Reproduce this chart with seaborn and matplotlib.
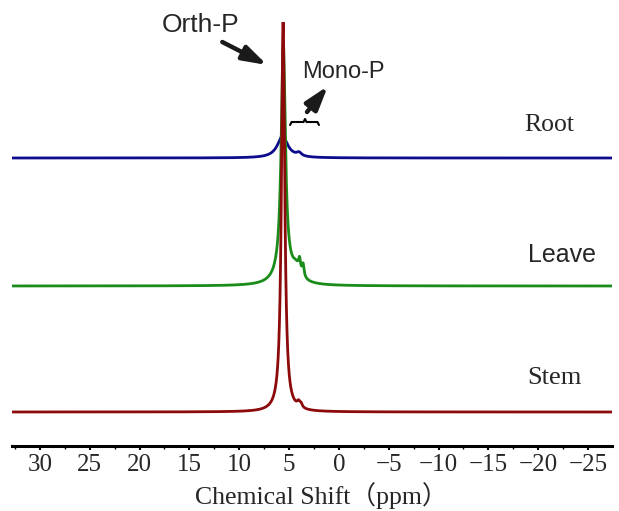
import numpy as np
import pandas as pd
import matplotlib
matplotlib.use("Agg")
import matplotlib.pyplot as plt
import seaborn as sns

# 31P NMR peak tables per tissue: centre (ppm), height (a.u.), half-width (ppm)
stem_centres = [5.60, 4.05, 3.80]
stem_heights = [390.0, 5.0, 3.5]
stem_widths = [0.20, 0.18, 0.15]

leave_centres = [5.58, 5.50, 4.30, 3.95, 3.60]
leave_heights = [232.0, 10.0, 12.0, 12.0, 12.0]
leave_widths = [0.25, 1.00, 0.50, 0.12, 0.12]

root_centres = [5.65, 5.65, 4.00]
root_heights = [21.0, 4.0, 3.5]
root_widths = [0.65, 0.08, 0.30]

# vertical stacking offsets of the three traces
samples = ["Stem", "Leave", "Root"]
offsets = [34.0, 160.0, 288.0]
colors = ["#8c0a0a", "#1a8c1a", "#0c0c8c"]

ticks = [30, 25, 20, 15, 10, 5, 0, -5, -10, -15, -20, -25]

shift = np.linspace(32.8, -27.4, 4000)


def lorentz_sum(x, centres, heights, widths):
    y = np.zeros_like(x)
    for c, h, w in zip(centres, heights, widths):
        y += h / (1.0 + ((x - c) / w) ** 2)
    return y


tables = {
    "Stem": (stem_centres, stem_heights, stem_widths),
    "Leave": (leave_centres, leave_heights, leave_widths),
    "Root": (root_centres, root_heights, root_widths),
}

frames = []
for name, off in zip(samples, offsets):
    c, h, w = tables[name]
    frames.append(pd.DataFrame({"shift": shift,
                                "intensity": off + lorentz_sum(shift, c, h, w),
                                "sample": name}))
df = pd.concat(frames, ignore_index=True)

sns.set_theme(style="white")
plt.rcParams["font.family"] = ["Liberation Serif", "Noto Sans CJK SC"]

fig = plt.figure(figsize=(6.19, 5.11), dpi=100)
ax = fig.add_axes([12 / 619, 65 / 511, 600 / 619, 424 / 511])

# draw root, leave, then stem so the stem trace sits on top
for name, col in zip(["Root", "Leave", "Stem"], [colors[2], colors[1], colors[0]]):
    sns.lineplot(data=df[df["sample"] == name], x="shift", y="intensity",
                 color=col, lw=2.0, ax=ax, estimator=None, sort=False)

ax.set_xlim(32.8, -27.4)
ax.set_ylim(0, 424)
ax.set_yticks([])
ax.set_ylabel("")
for s in ["left", "right", "top"]:
    ax.spines[s].set_visible(False)
ax.spines["bottom"].set_linewidth(2.2)
ax.spines["bottom"].set_color("black")

ax.set_xticks(ticks)
ax.set_xticklabels([str(t).replace("-", "\u2212") for t in ticks],
                   fontsize=18, family="Liberation Serif")
ax.set_xticks(np.arange(32.5, -27.5, -2.5), minor=True)
ax.tick_params(axis="x", which="major", direction="out", length=3, width=1.5,
               color="black", pad=3, bottom=True)
ax.tick_params(axis="x", which="minor", direction="out", length=2, width=1.0,
               color="black", bottom=True)
ax.set_xlabel("Chemical Shift\uff08ppm\uff09", fontsize=18.5,
              family=["Liberation Serif", "Noto Sans CJK SC"])
ax.xaxis.set_label_coords(0.515, -0.085)

# sample labels
ax.text(-21.1, 321, "Root", fontsize=18.5, family="Liberation Serif",
        ha="center", va="center")
ax.text(-22.4, 191, "Leave", fontsize=18, family="Liberation Sans",
        ha="center", va="center")
ax.text(-21.6, 68, "Stem", fontsize=19, family="Liberation Serif",
        ha="center", va="center")

# peak assignments
arrow_kw = dict(arrowstyle="-|>,head_length=1.2,head_width=0.38", lw=3.2,
                color="#1a1a1a", shrinkA=0, shrinkB=0)
ax.text(13.9, 421, "Orth-P", fontsize=19, family="Liberation Sans",
        ha="center", va="center")
ax.annotate("", xy=(7.2, 381), xytext=(11.7, 404), arrowprops=arrow_kw,
            annotation_clip=False)
ax.text(-0.4, 374, "Mono-P", fontsize=17, family="Liberation Sans",
        ha="center", va="center")
ax.annotate("", xy=(1.1, 360), xytext=(3.2, 334), arrowprops=arrow_kw,
            annotation_clip=False)

# brace spanning the monoester region
bx = [4.9, 4.75, 3.55, 3.4, 3.25, 2.15, 2.0]
by = [321, 324, 324, 327, 324, 324, 321]
ax.plot(bx, by, color="black", lw=1.5)

fig.savefig("out.png", dpi=100)
